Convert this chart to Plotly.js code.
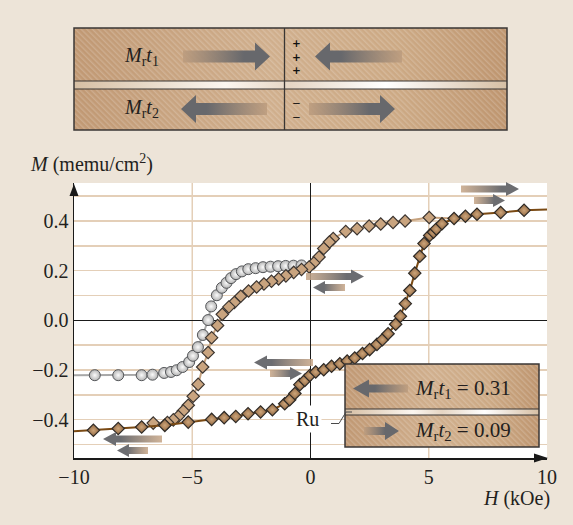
<!DOCTYPE html>
<html>
<head>
<meta charset="utf-8">
<script src="https://cdn.plot.ly/plotly-3.0.1.min.js"></script>
<style>
  html, body { margin: 0; padding: 0; background: #EDE4D8; }
  #chart { width: 573px; height: 525px; }
</style>
</head>
<body>
<div id="chart"></div>
<script>
// ---- Minor loop (grey circles): field H (kOe), moment M (memu/cm^2)
const minorH = [-9.12, -8.13, -7.14, -6.68, -6.19, -5.90, -5.66, -5.41, -5.13, -4.97, -4.76, -4.55, -4.33,
                -4.20, -3.96, -3.75, -3.55, -3.36, -3.15, -2.90, -2.63, -2.32, -2.01, -1.69, -1.37, -1.05, -0.72, -0.38];
const minorM = [-0.221, -0.221, -0.221, -0.219, -0.212, -0.208, -0.201, -0.188, -0.168, -0.143, -0.108, -0.059, 0.001,
                0.056, 0.101, 0.131, 0.151, 0.170, 0.186, 0.197, 0.206, 0.210, 0.214, 0.216, 0.218, 0.219, 0.220, 0.221];
const minorStartH = -10, minorStartM = -0.221;

// ---- Major loop, descending branch (light tan diamonds)
const descH = [5.02, 4.00, 3.49, 2.97, 2.48, 1.97, 1.49, 0.96, 0.80, 0.56, 0.36, 0.14, -0.06, -0.38, -0.71, -1.04,
               -1.35, -1.65, -1.97, -2.28, -2.62, -2.95, -3.22, -3.45, -3.73, -3.93, -4.18, -4.33, -4.56, -4.75,
               -4.96, -5.17, -5.38, -5.59, -5.80, -6.05, -6.65];
const descM = [0.414, 0.400, 0.394, 0.388, 0.380, 0.369, 0.358, 0.329, 0.315, 0.289, 0.255, 0.231, 0.215, 0.205, 0.193, 0.179,
               0.167, 0.157, 0.146, 0.134, 0.118, 0.097, 0.072, 0.054, 0.024, -0.021, -0.070, -0.130, -0.188, -0.258,
               -0.306, -0.342, -0.365, -0.387, -0.401, -0.412, -0.414];
const descStartH = 6.07, descStartM = 0.410;

// ---- Major loop, ascending branch (brown diamonds)
const ascH = [-9.18, -8.13, -7.14, -6.16, -5.17, -4.18, -3.65, -3.16, -2.64, -2.11, -1.61, -1.09, -0.88, -0.66, -0.45,
              -0.24, -0.03, 0.22, 0.56, 0.89, 1.24, 1.55, 1.87, 2.20, 2.50, 2.81, 3.04, 3.28, 3.60, 3.80, 4.01, 4.20,
              4.41, 4.62, 4.80, 5.04, 5.20, 5.32, 5.56, 6.07, 6.55, 7.04, 8.04, 9.03];
const ascM = [-0.443, -0.436, -0.430, -0.423, -0.410, -0.399, -0.392, -0.387, -0.376, -0.369, -0.360, -0.336, -0.320, -0.295, -0.259,
              -0.242, -0.222, -0.208, -0.199, -0.185, -0.175, -0.164, -0.152, -0.134, -0.118, -0.097, -0.078, -0.054, -0.016, 0.016, 0.067, 0.120,
              0.190, 0.258, 0.309, 0.342, 0.355, 0.368, 0.389, 0.410, 0.419, 0.427, 0.434, 0.443];
const ascStartH = -10, ascStartM = -0.447;
const ascEndH = 10, ascEndM = 0.446;

// ---- Axis ticks and grid
const xTickVals = [-10, -5, 0, 5, 10];
const xTickText = ['\u221210', '\u22125', '0', '5', '10'];
const yTickVals = [-0.5, -0.4, -0.3, -0.2, -0.1, 0, 0.1, 0.2, 0.3, 0.4, 0.5];
const yTickText = ['', '\u22120.4', '', '\u22120.2', '', '0.0', '', '0.2', '', '0.4', ''];
const gridH = [-5, 5];

// ---- Layer moments shown in the inset
const mrt1 = 0.31;
const mrt2 = 0.09;

// ---- Page geometry (pixels)
const W = 573, H = 525;
const PL = 74, PR = 547, PT = 183, PB = 458;
const px = x => (x - PL) / (PR - PL);
const py = y => (PB - y) / (PB - PT);

const SERIF = '"Liberation Serif", "Times New Roman", serif';
const INK = '#231F20';

// ---- Decorative drawing: layered stacks, magnetisation arrows, axis arrow heads
function arrowPath(x1, x2, y, sh, hh, hl) {
  const d = x2 > x1 ? 1 : -1;
  const xb = x2 - d * hl;
  return `M${x1},${y - sh / 2} L${xb},${y - sh / 2} L${xb},${y - hh / 2} L${x2},${y} ` +
         `L${xb},${y + hh / 2} L${xb},${y + sh / 2} L${x1},${y + sh / 2} Z`;
}
let gid = 0;
function arrow(x1, x2, y, sh, hh, hl, c0, c1, mid) {
  const id = 'ag' + (gid++);
  return `<linearGradient id="${id}" gradientUnits="userSpaceOnUse" x1="${x1}" y1="0" x2="${x2}" y2="0">` +
         `<stop offset="0" stop-color="${c0}" stop-opacity="0.85"/><stop offset="${mid}" stop-color="${c1}"/>` +
         `<stop offset="1" stop-color="${c1}"/></linearGradient>` +
         `<path d="${arrowPath(x1, x2, y, sh, hh, hl)}" fill="url(#${id})"/>`;
}
function layer(x, y, w, h) {
  return `<rect x="${x}" y="${y}" width="${w}" height="${h}" fill="url(#tan)"/>` +
         `<rect x="${x}" y="${y}" width="${w}" height="${h}" fill="url(#hatch)"/>`;
}
function gap(x, y, w, h) {
  return `<rect x="${x}" y="${y}" width="${w}" height="${h}" fill="url(#gapg)"/>`;
}

const BORDER = '#3A3634';
let svg = `<svg xmlns="http://www.w3.org/2000/svg" width="${W}" height="${H}" viewBox="0 0 ${W} ${H}">` +
  `<defs>` +
  `<pattern id="hatch" width="4" height="4" patternUnits="userSpaceOnUse" patternTransform="rotate(-45)">` +
  `<rect width="1.4" height="4" fill="#ffffff" fill-opacity="0.18"/></pattern>` +
  `<linearGradient id="tan" x1="0" y1="0" x2="1" y2="0">` +
  `<stop offset="0" stop-color="#C09873"/><stop offset="0.45" stop-color="#D0AF8D"/>` +
  `<stop offset="0.75" stop-color="#CCA984"/><stop offset="1" stop-color="#BE956F"/></linearGradient>` +
  `<linearGradient id="gapg" x1="0" y1="0" x2="1" y2="0">` +
  `<stop offset="0" stop-color="#D6BFA4"/><stop offset="0.35" stop-color="#FBF6F0"/>` +
  `<stop offset="0.5" stop-color="#E6D6C4"/><stop offset="0.72" stop-color="#FFFFFF"/>` +
  `<stop offset="1" stop-color="#D6BFA4"/></linearGradient>` +
  `</defs>`;

// stacked layers drawn above the plot
svg += layer(74, 28, 433, 53) + gap(74, 81, 433, 8) + layer(74, 89, 433, 41);
svg += `<rect x="74" y="28" width="433" height="102" fill="none" stroke="${BORDER}" stroke-width="1.5"/>`;
svg += `<line x1="74" y1="81" x2="507" y2="81" stroke="${BORDER}" stroke-width="1.2"/>`;
svg += `<line x1="74" y1="89" x2="507" y2="89" stroke="${BORDER}" stroke-width="1.2"/>`;
svg += `<line x1="284.5" y1="28" x2="284.5" y2="130" stroke="${BORDER}" stroke-width="1.3"/>`;
const DT = '#BC9C7E', DG = '#67686C';
svg += arrow(183, 270, 56.5, 12, 28, 15, DT, DG, 0.7);
svg += arrow(402, 315, 56.5, 12, 28, 15, DT, DG, 0.7);
svg += arrow(267, 181, 109, 12, 28, 15, DT, DG, 0.7);
svg += arrow(309, 395, 109, 12, 28, 15, DT, DG, 0.7);

// inset legend stack
svg += layer(345, 364, 194, 45) + gap(345, 409, 194, 6) + layer(345, 415, 194, 32);
svg += `<rect x="345" y="364" width="194" height="83" fill="none" stroke="${BORDER}" stroke-width="1.5"/>`;
svg += `<line x1="345" y1="409" x2="539" y2="409" stroke="${BORDER}" stroke-width="1.2"/>`;
svg += `<line x1="345" y1="415" x2="539" y2="415" stroke="${BORDER}" stroke-width="1.2"/>`;
svg += arrow(408, 353, 388.5, 8, 18, 16, DT, DG, 0.6);
svg += arrow(364, 399, 431, 8, 18, 14, DT, DG, 0.6);
svg += `<path d="M331,423.5 L339,423.5 L346,412 L352,412" fill="none" stroke="#4A4A4A" stroke-width="1"/>`;

// field-direction arrow pairs inside the plot
const PTN = '#C7A687', PGR = '#6C6D71';
svg += arrow(461, 519, 189, 7, 14, 13, PTN, PGR, 0.7);
svg += arrow(474, 505, 200.5, 7, 13, 12, PTN, PGR, 0.65);
svg += arrow(306, 364, 276.5, 7, 14, 13, PTN, PGR, 0.7);
svg += arrow(345, 313, 287.5, 7, 13, 12, PTN, PGR, 0.65);
svg += arrow(313, 254, 362.5, 7, 14, 13, PTN, PGR, 0.7);
svg += arrow(270, 302, 373.5, 7, 13, 12, PTN, PGR, 0.65);
svg += arrow(162, 103, 439, 7, 14, 13, PTN, PGR, 0.7);
svg += arrow(148, 117, 450.5, 7, 13, 12, PTN, PGR, 0.65);

// axis arrow heads
svg += `<path d="M74,184 L69.5,196 L78.5,196 Z" fill="#1A1A1A"/>`;
svg += `<path d="M548,458 L534,453.5 L534,462.5 Z" fill="#1A1A1A"/>`;
svg += `</svg>`;

const svgURI = 'data:image/svg+xml;base64,' + btoa(svg);

// ---- Traces (radial marker gradients: gradient.color sits at the centre, marker.color at the rim)
const traces = [
  { x: [minorStartH].concat(minorH), y: [minorStartM].concat(minorM), mode: 'lines',
    line: { color: '#A7A7A7', width: 2 }, hoverinfo: 'skip', showlegend: false },
  { x: minorH, y: minorM, mode: 'markers', showlegend: false,
    marker: { symbol: 'circle', size: 11, color: '#B4B4B4',
              gradient: { type: 'radial', color: '#FBFBFB' },
              line: { color: '#55575A', width: 1 } } },
  { x: [descStartH].concat(descH), y: [descStartM].concat(descM), mode: 'lines',
    line: { color: '#C6A27E', width: 2 }, hoverinfo: 'skip', showlegend: false },
  { x: descH, y: descM, mode: 'markers', showlegend: false,
    marker: { symbol: 'diamond', size: 9.5, color: '#C9A47F',
              line: { color: '#3C3530', width: 1.2 } } },
  { x: [ascStartH].concat(ascH, [ascEndH]), y: [ascStartM].concat(ascM, [ascEndM]), mode: 'lines',
    line: { color: '#7A4A14', width: 2 }, hoverinfo: 'skip', showlegend: false },
  { x: ascH, y: ascM, mode: 'markers', showlegend: false,
    marker: { symbol: 'diamond', size: 9.5, color: '#8E6540',
              gradient: { type: 'radial', color: '#CDA57A' },
              line: { color: '#2E2A26', width: 1.2 } } }
];

// ---- Text
function ann(text, x, y, opts) {
  return Object.assign({ text: text, xref: 'paper', yref: 'paper', x: px(x), y: py(y),
    showarrow: false, xanchor: 'center', yanchor: 'middle',
    font: { family: SERIF, size: 20, color: INK } }, opts || {});
}
const mrt = n => '<i>M</i><sub>r</sub><i>t</i><sub>' + n + '</sub>';
const SIGN_FONT = { family: '"DejaVu Sans", sans-serif', size: 10.5, color: '#111' };
const annotations = [
  ann(mrt(1), 141, 56.5),
  ann(mrt(2), 141, 108.5),
  ann('<b>+</b><br><b>+</b><br><b>+</b>', 296, 56.5, { font: SIGN_FONT }),
  ann('\u2212<br>\u2212', 296, 110, { font: SIGN_FONT }),
  ann(mrt(1) + ' = ' + mrt1.toFixed(2), 413, 388.5, { xanchor: 'left', font: { family: SERIF, size: 21, color: INK } }),
  ann(mrt(2) + ' = ' + mrt2.toFixed(2), 413, 431, { xanchor: 'left', font: { family: SERIF, size: 21, color: INK } }),
  ann('Ru', 307, 418.5, { bgcolor: '#FFFFFF', borderpad: 2 }),
  ann('<i>M</i> (memu/cm<sup>2</sup>)', 28, 163, { xanchor: 'left' }),
  ann('<i>H</i> (kOe)', 552, 498, { xanchor: 'right' })
];

const shapes = gridH.map(h => ({
  type: 'line', xref: 'x', yref: 'paper', x0: h, x1: h, y0: 0, y1: 1,
  line: { color: '#E4CFB8', width: 1.5 }, layer: 'below'
}));

const layout = {
  width: W, height: H, autosize: false,
  margin: { l: PL, r: W - PR, t: PT, b: H - PB, pad: 0 },
  paper_bgcolor: '#EDE4D8',
  plot_bgcolor: '#FFFFFF',
  showlegend: false,
  xaxis: {
    range: [-10, 10], tickvals: xTickVals, ticktext: xTickText, ticks: '',
    showgrid: false, zeroline: true, zerolinecolor: '#1A1A1A', zerolinewidth: 1.4,
    showline: true, linecolor: '#1A1A1A', linewidth: 1.5,
    tickfont: { family: SERIF, size: 20, color: INK }, fixedrange: true
  },
  yaxis: {
    range: [-0.5545, 0.553], tickvals: yTickVals, ticktext: yTickText, ticks: '',
    showgrid: true, gridcolor: '#E4CFB8', gridwidth: 1.5,
    zeroline: true, zerolinecolor: '#1A1A1A', zerolinewidth: 1.4,
    showline: true, linecolor: '#1A1A1A', linewidth: 1.5,
    tickfont: { family: SERIF, size: 20, color: INK }, fixedrange: true
  },
  shapes: shapes,
  annotations: annotations,
  images: [{
    source: svgURI, xref: 'paper', yref: 'paper',
    x: px(0), y: py(0), sizex: W / (PR - PL), sizey: H / (PB - PT),
    xanchor: 'left', yanchor: 'top', sizing: 'stretch', layer: 'above'
  }]
};

Plotly.newPlot('chart', traces, layout, { staticPlot: true, displayModeBar: false });
</script>
</body>
</html>
